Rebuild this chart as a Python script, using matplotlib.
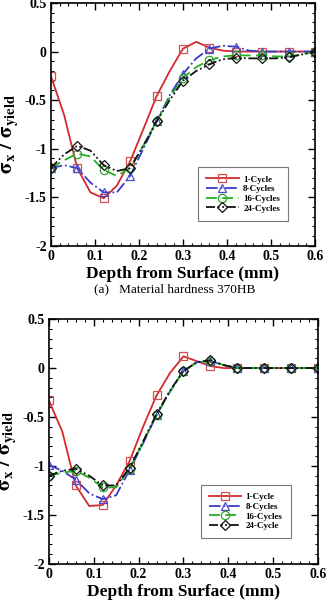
import numpy as np
import matplotlib
matplotlib.use('Agg')
from matplotlib import pyplot as plt
from matplotlib.ticker import MultipleLocator

plt.rcParams['font.family'] = ['Liberation Serif', 'DejaVu Serif']
plt.rcParams['mathtext.fontset'] = 'stix'
plt.rcParams['axes.unicode_minus'] = False

# depth (mm), curve points every 0.03, markers every 0.06
depth = [0.00, 0.03, 0.06, 0.09, 0.12, 0.15, 0.18, 0.21, 0.24, 0.27, 0.30,
         0.33, 0.36, 0.39, 0.42, 0.45, 0.48, 0.51, 0.54, 0.57, 0.60]

# (a) 370HB
a_1cyc = [-0.25, -0.65, -1.20, -1.45, -1.51, -1.38, -1.13, -0.80, -0.46, -0.20, 0.03,
          0.10, 0.04, 0.01, 0.00, 0.00, 0.00, 0.00, 0.00, 0.00, 0.00]
a_8cyc = [-1.20, -1.17, -1.20, -1.35, -1.45, -1.45, -1.28, -1.00, -0.72, -0.45, -0.23,
          -0.07, 0.03, 0.06, 0.05, 0.01, 0.00, 0.00, 0.00, 0.00, 0.00]
a_16cyc = [-1.20, -1.12, -1.05, -1.08, -1.22, -1.28, -1.20, -0.97, -0.72, -0.47, -0.27,
           -0.16, -0.09, -0.05, -0.04, -0.04, -0.04, -0.05, -0.05, -0.03, 0.00]
a_24cyc = [-1.20, -1.06, -0.97, -1.02, -1.17, -1.23, -1.20, -0.97, -0.72, -0.50, -0.30,
           -0.20, -0.13, -0.08, -0.065, -0.07, -0.07, -0.07, -0.06, -0.03, 0.00]

# (b)
b_1cyc = [-0.33, -0.65, -1.20, -1.41, -1.40, -1.20, -0.95, -0.60, -0.28, -0.05, 0.12,
          0.07, 0.02, 0.00, 0.00, 0.00, 0.00, 0.00, 0.00, 0.00, 0.00]
b_8cyc = [-0.99, -1.05, -1.14, -1.28, -1.34, -1.30, -1.04, -0.77, -0.48, -0.24, -0.03,
          0.06, 0.07, 0.03, 0.00, 0.00, 0.00, 0.00, 0.00, 0.00, 0.00]
b_16cyc = [-1.10, -1.07, -1.05, -1.12, -1.22, -1.22, -1.03, -0.76, -0.48, -0.24, -0.03,
           0.06, 0.07, 0.03, 0.00, 0.00, 0.00, 0.00, 0.00, 0.00, 0.00]
b_24cyc = [-1.10, -1.05, -1.03, -1.10, -1.20, -1.20, -1.02, -0.75, -0.47, -0.23, -0.03,
           0.06, 0.08, 0.03, 0.00, 0.00, 0.00, 0.00, 0.00, 0.00, 0.00]

labels_a = ['1-Cycle', '8-Cycles', '16-Cycles', '24-Cycles']
labels_b = ['1-Cycle', '8-Cycles', '16-Cycles', '24-Cycle']

styles = [
    dict(color='#d42a2a', ls='-', marker='s', mec='#d05050'),
    dict(color='#3a3acc', ls='-.', marker='^', mec='#4a4ad0'),
    dict(color='#22b022', ls=(0, (6, 3)), marker='o', mec='#30a030'),
    dict(color='#111111', ls=(0, (5, 1.5, 1, 1.5, 1, 1.5)), marker='D', mec='#111111'),
]


def trim(v, pos):
    return ('%g' % round(v, 3))


def draw(ax, series, labels):
    for y, lab, st in zip(series, labels, styles):
        ax.plot(depth, y, color=st['color'], ls=st['ls'], lw=1.3,
                marker=st['marker'], markevery=2, ms=6 if st['marker'] != 'D' else 5,
                mfc='none', mec=st['mec'], mew=0.9, label=lab)
    ax.set_xlim(0, 0.6)
    ax.set_ylim(-2, 0.5)
    ax.xaxis.set_major_locator(MultipleLocator(0.1))
    ax.xaxis.set_minor_locator(MultipleLocator(0.02))
    ax.yaxis.set_major_locator(MultipleLocator(0.5))
    ax.yaxis.set_minor_locator(MultipleLocator(0.1))
    ax.xaxis.set_major_formatter(trim)
    ax.yaxis.set_major_formatter(trim)
    ax.tick_params(which='both', direction='in', top=True, right=True)
    ax.tick_params(which='major', length=5, width=1, labelsize=10, pad=3)
    ax.tick_params(which='minor', length=2.5, width=0.8)
    for lab in ax.get_xticklabels() + ax.get_yticklabels():
        lab.set_fontweight('bold')
    for sp in ax.spines.values():
        sp.set_linewidth(1.2)
    ax.set_xlabel('Depth from Surface (mm)', fontsize=12.5, fontweight='bold', labelpad=2)
    ax.set_ylabel(r'$\mathbf{σ_x\ /\ σ_{yield}}$', fontsize=15)
    ax.yaxis.set_label_coords(-0.112, 0.46)
    leg = ax.legend(loc='lower right', bbox_to_anchor=(0.915, 0.085),
                    prop=dict(weight='bold', size=6.5), frameon=True, fancybox=False,
                    edgecolor='#555555', handlelength=3.6, labelspacing=0.15,
                    borderpad=0.9, handletextpad=0.5)
    leg.get_frame().set_linewidth(0.8)


fig = plt.figure(figsize=(3.30, 6.01), dpi=100)

ax1 = fig.add_axes([0.154, 0.591, 0.801, 0.404])
draw(ax1, [a_1cyc, a_8cyc, a_16cyc, a_24cyc], labels_a)

ax2 = fig.add_axes([0.148, 0.062, 0.816, 0.407])
draw(ax2, [b_1cyc, b_8cyc, b_16cyc, b_24cyc], labels_b)

fig.text(0.53, 1 - 289 / 601, '(a)   Material hardness 370HB', ha='center', va='center',
         fontsize=9.5)

fig.savefig('out.png', dpi=100)
